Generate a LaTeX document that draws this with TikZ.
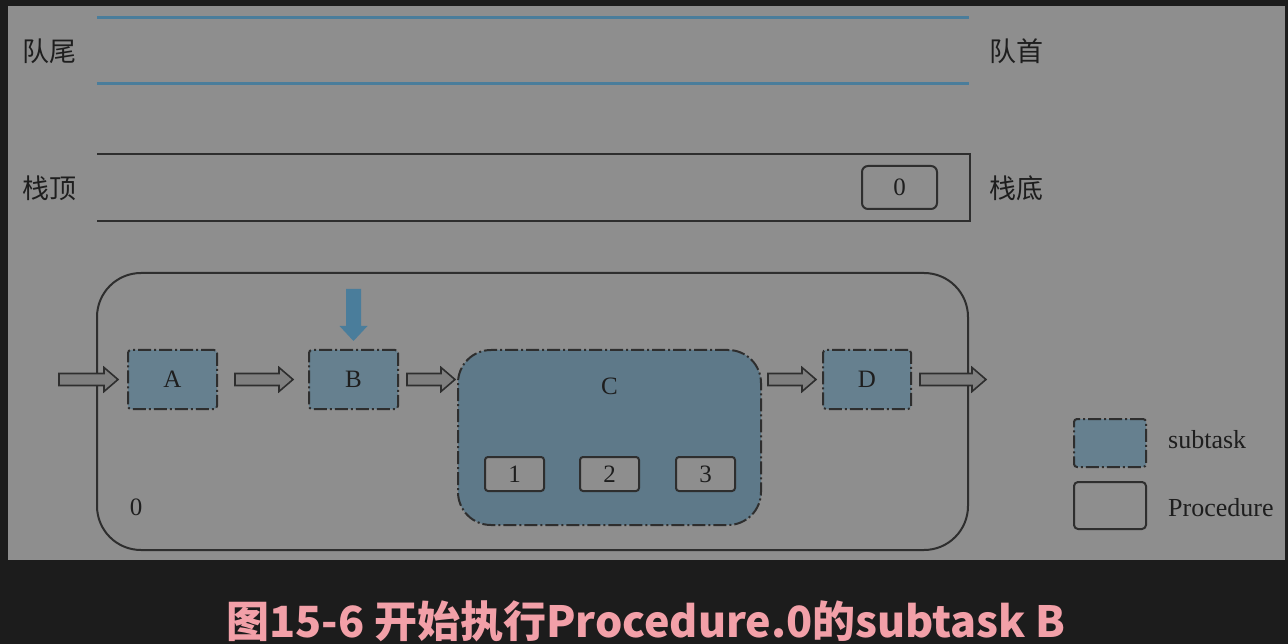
\documentclass[tikz,border=0pt]{standalone}
\usepackage{fontspec}
\setmainfont{Liberation Serif}
\newfontfamily\cjk{Noto Sans CJK SC}
\usetikzlibrary{calc}
\definecolor{bgdark}{HTML}{1C1C1C}
\definecolor{panel}{HTML}{8E8E8E}
\definecolor{qline}{HTML}{4A7D9B}
\definecolor{subfill}{HTML}{66808F}
\definecolor{cfill}{HTML}{5E7989}
\definecolor{linedark}{HTML}{2E2E2E}
\definecolor{arrowfill}{HTML}{7F7F7F}
\definecolor{textcol}{HTML}{1E1E1E}
\definecolor{capcol}{HTML}{F2A0A8}
\tikzset{
  lbl/.style={text=textcol, font=\fontsize{25}{30}\selectfont},
  cjklbl/.style={text=textcol, font=\cjk\fontsize{27}{32}\selectfont},
  subtask/.style={draw=linedark, line width=2pt, fill=subfill, rounded corners=3pt,
    dash pattern=on 13pt off 3pt on 2pt off 3pt, lbl},
  slot/.style={draw=linedark, line width=2pt, fill=panel, rounded corners=3pt, lbl},
  blkarrow/.style={draw=linedark, line width=1.6pt, fill=arrowfill, line join=miter},
}
% block arrow from #1 to #2, height taken from #1
\newcommand\blockarrow[2]{%
  \draw[blkarrow] let \p1=#1, \p2=#2 in (\x1,\y1+6) -- (\x2-14,\y1+6) -- (\x2-14,\y1+12)
    -- (\x2,\y1) -- (\x2-14,\y1-12) -- (\x2-14,\y1-6) -- (\x1,\y1-6) -- cycle;}
\begin{document}
\begin{tikzpicture}[x=1pt, y=-1pt, line join=round]
  \useasboundingbox (0,0) rectangle (1288,644);
  \fill[bgdark] (0,0) rectangle (1288,644);
  \fill[panel] (8,6) rectangle (1285,560);
  % queue
  \draw[qline, line width=3pt] (97,18) -- (969,18);
  \draw[qline, line width=3pt] (97,84) -- (969,84);
  \node[cjklbl] (qtail) at (50,51) {队尾};
  \node[cjklbl] (qhead) at (1016,51) {队首};
  % stack
  \draw[linedark, line width=2.5pt, line join=miter] (97,154) -- (970,154) -- (970,221) -- (97,221);
  \node[cjklbl] (stop) at (50,188) {栈顶};
  \node[cjklbl] (sbot) at (1016,188) {栈底};
  \node[slot, rounded corners=6pt, fill=none, minimum width=75, minimum height=43] (s0) at (899.5,187.5) {0};
  % procedure 0
  \node[draw=linedark, line width=2pt, rounded corners=44pt, minimum width=871, minimum height=277] (proc) at (532.5,411.5) {};
  \node[lbl] (p0) at (136,507) {0};
  \node[subtask, minimum width=89, minimum height=59] (A) at (172.5,379.5) {A};
  \node[subtask, minimum width=89, minimum height=59] (B) at (353.5,379.5) {B};
  \node[subtask, fill=cfill, rounded corners=33pt, minimum width=303, minimum height=175] (C) at (609.5,437.5) {};
  \node[lbl] (Clbl) at ($(C.north)+(0,37)$) {C};
  \foreach \i/\x in {1/514.5, 2/609.5, 3/705.5}
    \node[slot, minimum width=59, minimum height=34] (c\i) at (\x,474) {\i};
  \node[subtask, minimum width=88, minimum height=59] (D) at (867,379.5) {D};
  % flow
  \coordinate (in) at (59,379.5);
  \coordinate (out) at (986,379.5);
  \blockarrow{(in)}{($(A.west)+(-9,0)$)}
  \blockarrow{($(A.east)+(17,0)$)}{($(B.west)+(-15,0)$)}
  \blockarrow{($(B.east)+(8,0)$)}{($(B.east -| C.west)+(-2,0)$)}
  \blockarrow{($(D.west -| C.east)+(6,0)$)}{($(D.west)+(-6,0)$)}
  \blockarrow{($(D.east)+(8,0)$)}{(out)}
  % current subtask
  \coordinate (push) at (353.5,289);
  \fill[qline] let \p1=(push), \p2=($(B.north)+(0,-8)$) in (\x1-7.5,\y1) -- (\x1-7.5,\y2+15)
    -- (\x1-14,\y2+15) -- (\x2,\y2) -- (\x1+14,\y2+15) -- (\x1+7.5,\y2+15) -- (\x1+7.5,\y1) -- cycle;
  % legend
  \node[subtask, minimum width=72, minimum height=48] (lsub) at (1110,443) {};
  \node[lbl, font=\fontsize{26}{30}\selectfont, anchor=west, inner sep=0pt] (lsubt) at (1168,440) {subtask};
  \node[draw=linedark, line width=2pt, rounded corners=4pt, minimum width=72, minimum height=47] (lproc) at (1110,505.5) {};
  \node[lbl, font=\fontsize{26}{30}\selectfont, anchor=west, inner sep=0pt] (lproct) at (1168,508) {Procedure};
  % caption
  \node[text=capcol, font=\cjk\bfseries\fontsize{43}{46}\selectfont] (cap) at (646,621) {图15-6 开始执行Procedure.0的subtask B};
\end{tikzpicture}
\end{document}
